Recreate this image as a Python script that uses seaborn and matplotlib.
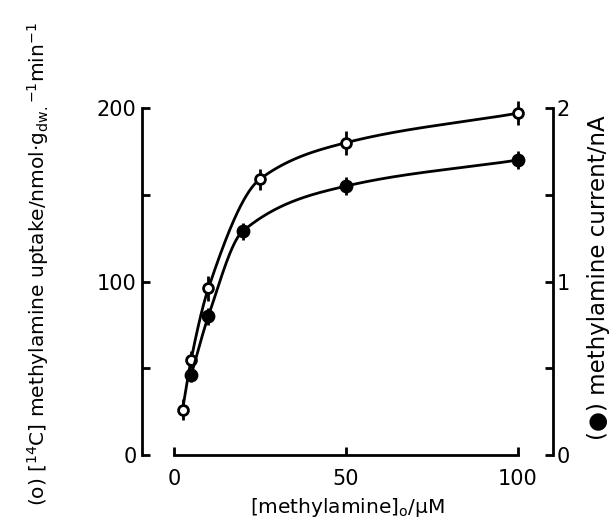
import numpy as np
import pandas as pd
import matplotlib
matplotlib.use("Agg")
import matplotlib.pyplot as plt
import seaborn as sns

# ---- data ----
conc_open = [2.5, 5, 10, 25, 50, 100]          # µM
uptake = [26, 55, 96, 159, 180, 197]            # nmol g_dw^-1 min^-1
uptake_err = [6, 5, 7, 6, 7, 7]

conc_filled = [5, 10, 20, 50, 100]              # µM
current = [0.46, 0.80, 1.29, 1.55, 1.70]        # nA
current_err = [0.04, 0.05, 0.05, 0.05, 0.05]

xticks = [0, 50, 100]
left_ticks = [0, 50, 100, 150, 200]
left_labels = ["0", "", "100", "", "200"]
right_ticks = [0, 0.5, 1, 1.5, 2]
right_labels = ["0", "", "1", "", "2"]


def pchip(x, y, xs):
    x = np.asarray(x, float); y = np.asarray(y, float)
    h = np.diff(x); d = np.diff(y) / h
    m = np.zeros_like(y)
    m[0] = d[0]; m[-1] = d[-1]
    for k in range(1, len(x) - 1):
        if d[k - 1] * d[k] > 0:
            w1 = 2 * h[k] + h[k - 1]; w2 = h[k] + 2 * h[k - 1]
            m[k] = (w1 + w2) / (w1 / d[k - 1] + w2 / d[k])
    out = np.empty_like(xs)
    for i, xv in enumerate(xs):
        k = min(max(np.searchsorted(x, xv) - 1, 0), len(x) - 2)
        t = (xv - x[k]) / h[k]
        h00 = 2*t**3 - 3*t**2 + 1; h10 = t**3 - 2*t**2 + t
        h01 = -2*t**3 + 3*t**2; h11 = t**3 - t**2
        out[i] = h00*y[k] + h10*h[k]*m[k] + h01*y[k+1] + h11*h[k]*m[k+1]
    return out


sns.set_theme(style="ticks")
plt.rcParams['font.family'] = ['DejaVu Sans']
plt.rcParams['mathtext.default'] = 'regular'
for key in ['axes.edgecolor', 'axes.labelcolor', 'xtick.color', 'ytick.color', 'text.color']:
    plt.rcParams[key] = 'black'

fig = plt.figure(figsize=(6.12, 5.31), dpi=100)
ax = fig.add_axes([0.2325, 0.1431, 0.6706, 0.6666])
ax2 = ax.twinx()

xs_o = np.linspace(conc_open[0], conc_open[-1], 400)
xs_f = np.linspace(conc_filled[0], conc_filled[-1], 400)
curve_o = pd.DataFrame({"x": xs_o, "y": pchip(conc_open, uptake, xs_o)})
curve_f = pd.DataFrame({"x": xs_f, "y": pchip(conc_filled, current, xs_f)})

sns.lineplot(data=curve_o, x="x", y="y", ax=ax, color="black", lw=2, zorder=2)
sns.lineplot(data=curve_f, x="x", y="y", ax=ax2, color="black", lw=2, zorder=2)

ax.errorbar(conc_open, uptake, yerr=uptake_err, fmt="none", ecolor="black",
            elinewidth=2, capsize=0, zorder=3, clip_on=False)
ax2.errorbar(conc_filled, current, yerr=current_err, fmt="none", ecolor="black",
             elinewidth=2, capsize=0, zorder=3, clip_on=False)
sns.scatterplot(x=conc_open, y=uptake, ax=ax, marker="o", s=50,
                facecolor="white", edgecolor="black", linewidth=2, zorder=4, clip_on=False)
sns.scatterplot(x=conc_filled, y=current, ax=ax2, marker="o", s=80,
                color="black", edgecolor="black", linewidth=1, zorder=4, clip_on=False)

ax.set_xlim(-9.2, 110.1)
ax.set_ylim(0, 204)
ax2.set_ylim(0, 2.04)

for a in (ax, ax2):
    a.spines['top'].set_visible(False)
    for s in a.spines.values():
        s.set_linewidth(2)
        s.set_color('black')
ax.spines['right'].set_visible(False)
ax2.spines['left'].set_visible(False)
ax2.spines['bottom'].set_visible(False)
ax.spines['bottom'].set_bounds(0, 100)
ax.spines['left'].set_bounds(0, 200)
ax2.spines['right'].set_bounds(0, 2)

ax.set_xticks(xticks)
ax.set_xticklabels([str(t) for t in xticks])
ax.set_yticks(left_ticks)
ax.set_yticklabels(left_labels)
ax2.set_yticks(right_ticks)
ax2.set_yticklabels(right_labels)

ax.tick_params(axis='x', direction='in', length=6, width=2, labelsize=15, pad=10, colors='black')
ax.tick_params(axis='y', direction='in', length=6, width=2, labelsize=15, pad=4, colors='black')
ax2.tick_params(axis='y', direction='in', length=6, width=2, labelsize=15, pad=3, colors='black')

ax.set_xlabel("[methylamine]$_{o}$/μM", fontsize=14.5, labelpad=5)
ax.set_ylabel("(o) [$^{14}$C] methylamine uptake/nmol·g$_{dw.}$$^{-1}$min$^{-1}$",
              fontsize=14.5)
ax.yaxis.set_label_coords(-0.222, 0.54)
ax2.set_ylabel("(●) methylamine current/nA", fontsize=16.5, labelpad=12)

fig.savefig("out.png", dpi=100)
